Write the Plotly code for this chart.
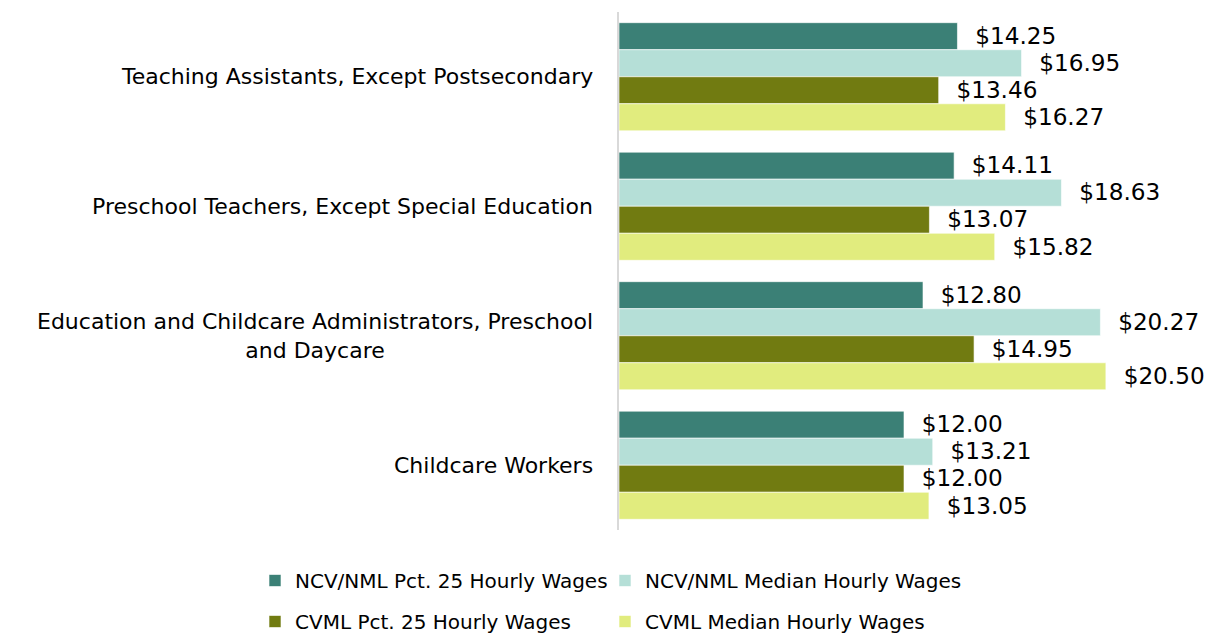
import plotly.graph_objects as go

categories = [
    "Teaching Assistants, Except Postsecondary",
    "Preschool Teachers, Except Special Education",
    "Education and Childcare Administrators, Preschool<br>and Daycare",
    "Childcare Workers",
]
series_names = [
    "NCV/NML Pct. 25 Hourly Wages",
    "NCV/NML Median Hourly Wages",
    "CVML Pct. 25 Hourly Wages",
    "CVML Median Hourly Wages",
]
ncv_pct25 = [14.25, 14.11, 12.80, 12.00]
ncv_median = [16.95, 18.63, 20.27, 13.21]
cvml_pct25 = [13.46, 13.07, 14.95, 12.00]
cvml_median = [16.27, 15.82, 20.50, 13.05]
colors = ["#3B8076", "#B5DFD7", "#717B11", "#E1EC7E"]

FONT = "DejaVu Sans"
W, H = 1214, 634
ML, MR, MT, MB = 619, 5, 12, 104

fig = go.Figure()
legends = ["legend", "legend2", "legend3", "legend4"]
for name, vals, col, lg in zip(series_names, [ncv_pct25, ncv_median, cvml_pct25, cvml_median], colors, legends):
    fig.add_trace(go.Bar(
        y=categories, x=vals, name=name, orientation="h",
        marker=dict(color=col, line=dict(color="rgba(255,255,255,0.6)", width=1)),
        text=[f"  ${v:.2f}" for v in vals], textposition="outside",
        textfont=dict(family=FONT, size=24, color="#000000"),
        cliponaxis=False, legend=lg,
    ))

for c in categories:
    fig.add_annotation(
        x=0, xref="paper", xanchor="right", xshift=-24,
        y=c, yref="y", yanchor="middle",
        text=c, showarrow=False, align="center",
        font=dict(family=FONT, size=22, color="#000000"),
    )

pw = W - ML - MR
ph = H - MT - MB


def leg(px, py):
    return dict(orientation="h", x=(px - ML) / pw, xanchor="left",
                y=(MT + ph - py) / ph, yanchor="top",
                font=dict(family=FONT, size=20, color="#000000"),
                itemwidth=30, bgcolor="rgba(0,0,0,0)")


fig.update_layout(
    width=W, height=H,
    margin=dict(l=ML, r=MR, t=MT, b=MB, autoexpand=False),
    paper_bgcolor="white", plot_bgcolor="white",
    barmode="group", bargap=0.165, bargroupgap=0,
    font=dict(family=FONT, color="#000000"),
    xaxis=dict(range=[0, pw / 23.75], showgrid=False, showticklabels=False,
               zeroline=False, showline=False, ticks=""),
    yaxis=dict(autorange="reversed", showticklabels=False, showgrid=False,
               showline=True, linecolor="#D9D9D9", linewidth=1.5, ticks=""),
    legend=leg(255, 561),
    legend2=leg(605, 561),
    legend3=leg(255, 602),
    legend4=leg(605, 602),
    showlegend=True,
)
fig.write_html("out.html", config={"displayModeBar": False},
               post_script="document.body.style.margin='0px';")
